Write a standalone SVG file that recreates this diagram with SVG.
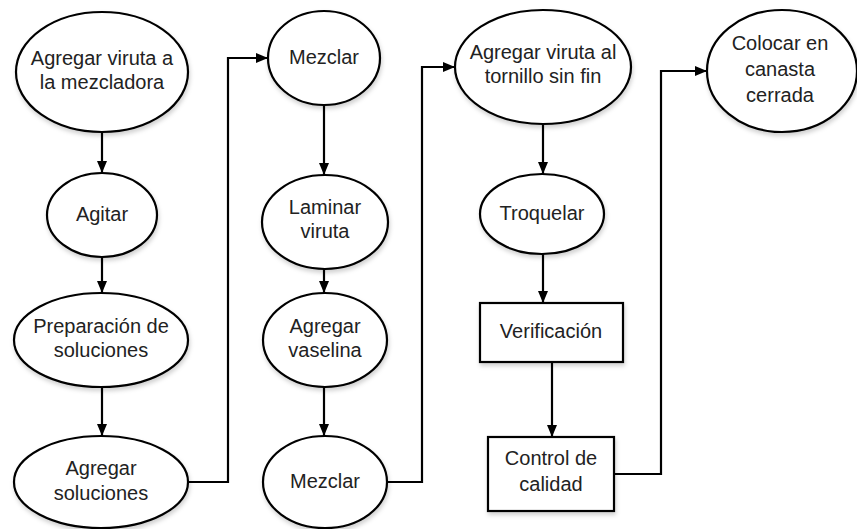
<svg xmlns="http://www.w3.org/2000/svg" width="857" height="529" viewBox="0 0 857 529">
<defs>
<style>
.n{fill:#fff;stroke:#000;stroke-width:2.2;filter:url(#sh)}
.t{font-family:"Liberation Sans",Arial,sans-serif;font-size:20px;fill:#222;text-anchor:middle}
.c{fill:none;stroke:#000;stroke-width:2.2}
</style>
<filter id="sh" x="-10%" y="-10%" width="125%" height="130%">
<feDropShadow dx="1" dy="3" stdDeviation="2" flood-color="#000" flood-opacity="0.18"/>
</filter>
<marker id="ah" markerUnits="userSpaceOnUse" markerWidth="12" markerHeight="10" refX="12" refY="5" orient="auto">
<path d="M0,0 L12,5 L0,10 z" fill="#000"/>
</marker>
</defs>
<rect width="857" height="529" fill="#fff"/>
<g id="connectors">
<path class="c" marker-end="url(#ah)" d="M102,132 V173"/>
<path class="c" marker-end="url(#ah)" d="M102,257 V293"/>
<path class="c" marker-end="url(#ah)" d="M102,387 V436"/>
<path class="c" marker-end="url(#ah)" d="M188,482 H228 V58 H268"/>
<path class="c" marker-end="url(#ah)" d="M324,105 V175"/>
<path class="c" marker-end="url(#ah)" d="M324,269 V293"/>
<path class="c" marker-end="url(#ah)" d="M324,387 V436"/>
<path class="c" marker-end="url(#ah)" d="M387,482 H422 V67 H455"/>
<path class="c" marker-end="url(#ah)" d="M543,124 V174"/>
<path class="c" marker-end="url(#ah)" d="M543,254 V303"/>
<path class="c" marker-end="url(#ah)" d="M552,362 V437"/>
<path class="c" marker-end="url(#ah)" d="M614,474 H661 V71 H707"/>
</g>
<g id="n1"><ellipse class="n" cx="102" cy="72" rx="86" ry="60"/><text class="t" x="102" y="65">Agregar viruta a</text><text class="t" x="102" y="89">la mezcladora</text></g>
<g id="n2"><ellipse class="n" cx="102" cy="215" rx="55" ry="42"/><text class="t" x="102" y="221">Agitar</text></g>
<g id="n3"><ellipse class="n" cx="101" cy="340" rx="87" ry="47"/><text class="t" x="101" y="333">Preparación de</text><text class="t" x="101" y="357">soluciones</text></g>
<g id="n4"><ellipse class="n" cx="101" cy="482" rx="87" ry="46"/><text class="t" x="101" y="475">Agregar</text><text class="t" x="101" y="500">soluciones</text></g>
<g id="n5"><ellipse class="n" cx="324" cy="58" rx="56" ry="47"/><text class="t" x="324" y="64">Mezclar</text></g>
<g id="n6"><ellipse class="n" cx="325" cy="222" rx="63" ry="47"/><text class="t" x="325" y="214">Laminar</text><text class="t" x="325" y="238">viruta</text></g>
<g id="n7"><ellipse class="n" cx="325" cy="340" rx="62" ry="47"/><text class="t" x="325" y="333">Agregar</text><text class="t" x="325" y="357">vaselina</text></g>
<g id="n8"><ellipse class="n" cx="325" cy="482" rx="62" ry="46"/><text class="t" x="325" y="488">Mezclar</text></g>
<g id="n9"><ellipse class="n" cx="543" cy="67" rx="88" ry="57"/><text class="t" x="543" y="59">Agregar viruta al</text><text class="t" x="543" y="83">tornillo sin fin</text></g>
<g id="n10"><ellipse class="n" cx="542" cy="214" rx="62" ry="40"/><text class="t" x="542" y="220">Troquelar</text></g>
<g id="n11"><rect class="n" x="480" y="303" width="143" height="59"/><text class="t" x="551" y="338">Verificación</text></g>
<g id="n12"><rect class="n" x="488" y="437" width="126" height="74"/><text class="t" x="551" y="465">Control de</text><text class="t" x="551" y="491">calidad</text></g>
<g id="n13"><ellipse class="n" cx="782" cy="71" rx="75" ry="61"/><text class="t" x="780" y="50">Colocar en</text><text class="t" x="780" y="76">canasta</text><text class="t" x="780" y="102">cerrada</text></g>
</svg>
